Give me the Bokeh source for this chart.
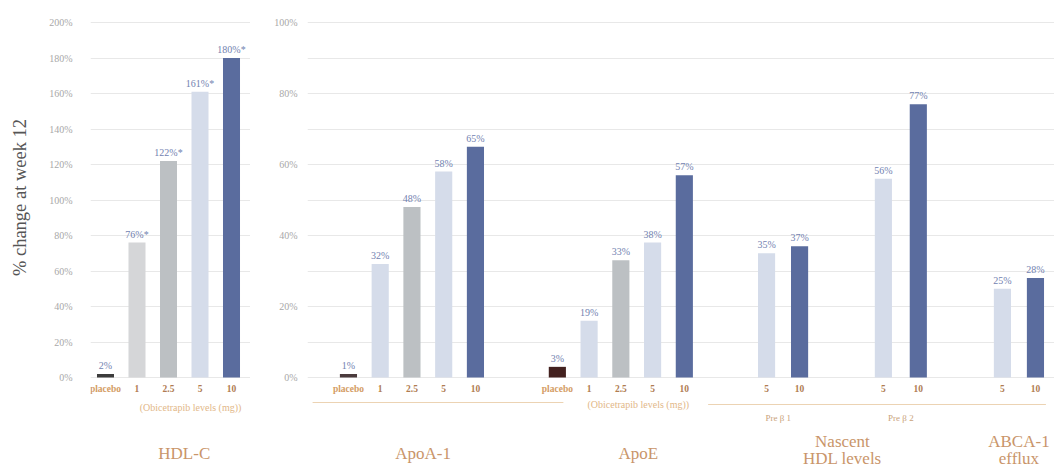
import math
from bokeh.plotting import figure
from bokeh.layouts import row
from bokeh.models import ColumnDataSource, FixedTicker, Range1d, PrintfTickFormatter
from bokeh.core.properties import value
from bokeh.embed import file_html
from bokeh.resources import INLINE

# ---------------- data ----------------
dose_labels = ["placebo", "1", "2.5", "5", "10"]

hdl_values = [2, 76, 122, 161, 180]
hdl_text = ["2%", "76%*", "122%*", "161%*", "180%*"]

apoa1_values = [1, 32, 48, 58, 65]
apoa1_text = ["1%", "32%", "48%", "58%", "65%"]

apoe_values = [3, 16, 33, 38, 57]
apoe_text = ["3%", "19%", "33%", "38%", "57%"]

nascent_labels = ["5", "10"]
pre_b1_values = [35, 37]
pre_b1_text = ["35%", "37%"]
pre_b2_values = [56, 77]
pre_b2_text = ["56%", "77%"]

abca1_labels = ["5", "10"]
abca1_values = [25, 28]
abca1_text = ["25%", "28%"]

left_ticks = list(range(0, 201, 20))
right_ticks = list(range(0, 101, 20))
right_grid = list(range(0, 101, 10))

y_title = "% change at week 12"

# ---------------- styles ----------------
FONT = "Liberation Serif"
DARK_BLUE = "#5a6c9e"
LIGHT_BLUE = "#d5dcea"
GRAY = "#bcc0c3"
LIGHT_GRAY = "#d5d6d8"
VAL_COLOR = "#7282b0"
PLACEBO_TXT = "#d49c64"
NUM_TXT = "#b07c52"
TITLE_TXT = "#c9956a"
SUB_TXT = "#e2b788"
GRID = "#e8e8e8"

BAR_W = 0.54

# pixel helpers (layout only)
L_ZERO, L_PPU = 377, 1.775   # left panel: px per 1%
R_ZERO, R_PPU = 377, 3.55    # right panel: px per 1%
H = 468
W0 = 34


def ly(py):
    return (L_ZERO - py) / L_PPU


def ry(py):
    return (R_ZERO - py) / R_PPU


def style(p, ticks, grid_ticks, standoff):
    p.outline_line_color = None
    p.xgrid.visible = False
    p.yaxis.ticker = FixedTicker(ticks=ticks)
    p.ygrid.ticker = FixedTicker(ticks=grid_ticks)
    p.ygrid.grid_line_color = GRID
    p.ygrid.grid_line_width = 1
    p.yaxis.formatter = PrintfTickFormatter(format="%d%%")
    p.yaxis.axis_line_color = None
    p.yaxis.major_tick_line_color = None
    p.yaxis.minor_tick_line_color = None
    p.yaxis.major_label_text_font = FONT
    p.yaxis.major_label_text_font_size = "10px"
    p.yaxis.major_label_text_color = "#a8a8a8"
    p.yaxis.major_label_standoff = standoff
    p.background_fill_color = "white"
    p.border_fill_color = "white"


def add_group(p, xs, vals, texts, labels, colors, yfun, placebo_first):
    src = ColumnDataSource(dict(x=xs, top=vals, color=colors, t=texts))
    p.vbar(x="x", top="top", width=BAR_W, fill_color="color", line_color=None, source=src)
    p.text(x="x", y="top", text="t", source=src, text_align="center", text_baseline="bottom",
           y_offset=-3, text_font=value(FONT), text_font_size="10px", text_color=VAL_COLOR)
    lcols = [PLACEBO_TXT if (placebo_first and i == 0) else NUM_TXT for i in range(len(labels))]
    lsrc = ColumnDataSource(dict(x=xs, y=[yfun(388)] * len(xs), t=labels, c=lcols))
    p.text(x="x", y="y", text="t", source=lsrc, text_align="center", text_baseline="middle",
           text_font=value(FONT), text_font_size="9.5px", text_font_style="bold", text_color="c")


def add_txt(p, x, y, t, size, color, style_="normal"):
    p.text(x=[x], y=[y], text=[t], text_align="center", text_baseline="middle",
           text_font=value(FONT), text_font_size=size, text_color=color, text_font_style=style_)


# ---------------- y-axis title strip ----------------
p0 = figure(width=W0, height=H, x_range=Range1d(0, W0), y_range=Range1d(H, 0),
            output_backend="svg", toolbar_location=None, x_axis_location=None, y_axis_location=None,
            min_border_left=0, min_border_right=0, min_border_top=0, min_border_bottom=0)
p0.outline_line_color = None
p0.grid.visible = False
p0.text(x=[19], y=[197], text=[y_title], angle=math.pi / 2, text_align="center",
        text_baseline="middle", text_font=value(FONT), text_font_size="18.5px",
        text_color="#555555")

# ---------------- left panel (HDL-C) ----------------
p1 = figure(width=250 - W0, height=H, x_range=Range1d(-0.476, 4.603), y_range=Range1d(ly(H), ly(0)),
            output_backend="svg", toolbar_location=None, x_axis_location=None,
            min_border_left=90 - W0, min_border_right=0, min_border_top=0, min_border_bottom=0)
style(p1, left_ticks, left_ticks, 12)

hdl_x = list(range(len(hdl_values)))
add_group(p1, hdl_x, hdl_values, hdl_text, dose_labels,
          ["#3c3c3c", LIGHT_GRAY, GRAY, LIGHT_BLUE, DARK_BLUE], ly, True)
hdl_mid = sum(hdl_x[1:]) / len(hdl_x[1:])
add_txt(p1, hdl_mid + 0.2, ly(407), "(Obicetrapib levels (mg))", "10px", SUB_TXT)
add_txt(p1, hdl_mid, ly(453), "HDL-C", "17px", TITLE_TXT)

# ---------------- right panel ----------------
p2 = figure(width=804, height=H, x_range=Range1d(-1.29, 22.24), y_range=Range1d(ry(H), ry(0)),
            output_backend="svg", toolbar_location=None, x_axis_location=None,
            min_border_left=57, min_border_right=0, min_border_top=0, min_border_bottom=0)
style(p2, right_ticks, right_grid, 4)

G_APOA, G_APOE, G_PRE1, G_PRE2, G_ABCA = 0.0, 6.58, 13.17, 16.85, 20.6
apo_cols = ["#4b3b3d", LIGHT_BLUE, GRAY, LIGHT_BLUE, DARK_BLUE]

apoa_x = [G_APOA + i for i in range(5)]
add_group(p2, apoa_x, apoa1_values, apoa1_text, dose_labels, apo_cols, ry, True)
apoe_x = [G_APOE + i for i in range(5)]
add_group(p2, apoe_x, apoe_values, apoe_text, dose_labels, ["#43211f"] + apo_cols[1:], ry, True)
pre1_x = [G_PRE1, G_PRE1 + 1.04]
add_group(p2, pre1_x, pre_b1_values, pre_b1_text, nascent_labels, [LIGHT_BLUE, DARK_BLUE], ry, False)
pre2_x = [G_PRE2, G_PRE2 + 1.1]
add_group(p2, pre2_x, pre_b2_values, pre_b2_text, nascent_labels, [LIGHT_BLUE, DARK_BLUE], ry, False)
abca_x = [G_ABCA, G_ABCA + 1.04]
add_group(p2, abca_x, abca1_values, abca1_text, abca1_labels, [LIGHT_BLUE, DARK_BLUE], ry, False)

# brackets
p2.line(x=[G_APOA - 1.13, G_APOE + 0.19], y=[ry(402), ry(402)], line_color="#ecd3b3", line_width=1)
p2.line(x=[G_PRE1 - 1.84, G_ABCA + 1.37], y=[ry(404), ry(404)], line_color="#ecd3b3", line_width=1)

apoe_mid = sum(apoe_x[1:]) / 4
add_txt(p2, apoe_mid + 0.05, ry(404), "(Obicetrapib levels (mg))", "10px", SUB_TXT)
add_txt(p2, sum(pre1_x) / 2 - 0.15, ry(417), "Pre β 1", "9px", "#c9a27a")
add_txt(p2, sum(pre2_x) / 2, ry(417), "Pre β 2", "9px", "#c9a27a")

add_txt(p2, sum(apoa_x[1:]) / 4 - 0.15, ry(453), "ApoA-1", "17px", TITLE_TXT)
add_txt(p2, apoe_mid + 0.05, ry(453), "ApoE", "17px", TITLE_TXT)
nas_mid = (pre1_x[0] + pre2_x[1]) / 2
add_txt(p2, nas_mid, ry(441), "Nascent", "17px", TITLE_TXT)
add_txt(p2, nas_mid, ry(458), "HDL levels", "17px", TITLE_TXT)
abca_mid = sum(abca_x) / 2
add_txt(p2, abca_mid, ry(441), "ABCA-1", "17px", TITLE_TXT)
add_txt(p2, abca_mid, ry(458), "efflux", "17px", TITLE_TXT)

layout = row(p0, p1, p2)
open("out.html", "w").write(file_html(layout, INLINE))
